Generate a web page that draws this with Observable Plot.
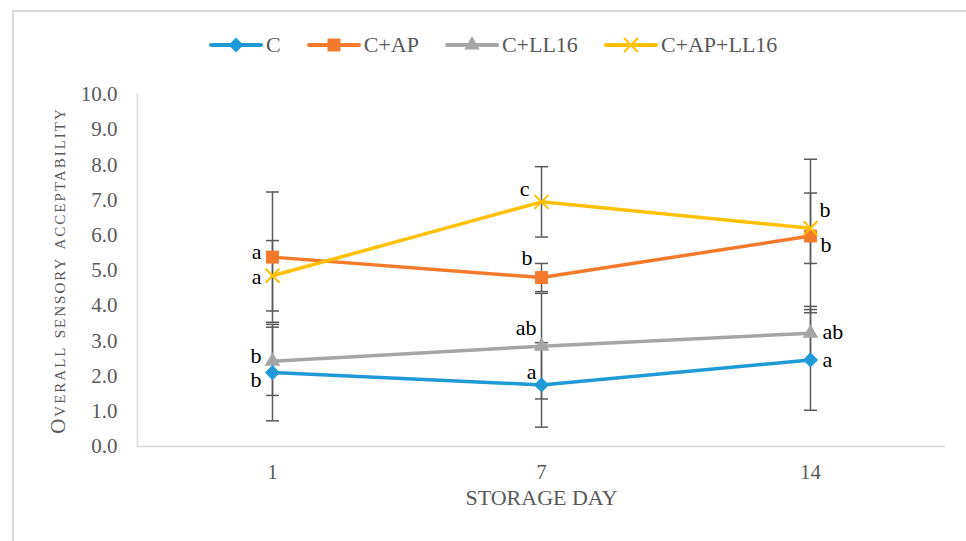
<!DOCTYPE html>
<html><head><meta charset="utf-8">
<script src="https://cdn.jsdelivr.net/npm/d3@7"></script>
<script src="https://cdn.jsdelivr.net/npm/@observablehq/plot@0.6"></script>
<style>
body{margin:0;background:#fff;overflow:hidden;}
#wrap{position:relative;width:966px;height:541px;overflow:hidden;}
#frame{position:absolute;left:12px;top:10px;width:990px;height:560px;border:2px solid #d9d9d9;box-sizing:border-box;pointer-events:none;}
#legend{position:absolute;left:209px;top:30px;height:30px;display:flex;align-items:center;font-family:"Liberation Serif",serif;font-size:22px;color:#595959;}
.item{display:flex;align-items:center;margin-right:26px;}
.item svg{margin-right:3px;}
#chart{position:absolute;left:0;top:70px;}
</style></head>
<body>
<div id="wrap">
  <div id="frame"></div>
  <div id="legend"></div>
  <div id="chart"></div>
</div>
<script>
// ---- data ----
const days = ["1", "7", "14"];
const series = ["C", "C+AP", "C+LL16", "C+AP+LL16"];
const colors = ["#1F9AD6", "#F47A2B", "#A5A5A5", "#FFC000"];
const symbols = ["diamond2", "square", "triangle", "times"];

const meanC        = [2.10, 1.75, 2.46];
const meanCAP      = [5.38, 4.80, 5.98];
const meanCLL16    = [2.42, 2.85, 3.22];
const meanCAPLL16  = [4.85, 6.95, 6.20];

const errC         = [1.37, 1.20, 1.43];
const errCAP       = [1.85, 0.40, 2.18];
const errCLL16     = [0.97, 1.50, 0.76];
const errCAPLL16   = [1.00, 1.00, 1.00];

const letterC       = ["b", "a", "a"];
const letterCAP     = ["a", "b", "b"];
const letterCLL16   = ["b", "ab", "ab"];
const letterCAPLL16 = ["a", "c", "b"];

const yTicks = [0, 1, 2, 3, 4, 5, 6, 7, 8, 9, 10];
const yLabel = "Overall sensory acceptability";
const xLabel = "STORAGE DAY";

// ---- table ----
const means = [meanC, meanCAP, meanCLL16, meanCAPLL16];
const errs = [errC, errCAP, errCLL16, errCAPLL16];
const letters = [letterC, letterCAP, letterCLL16, letterCAPLL16];
const rows = [];
series.forEach((s, si) => days.forEach((d, di) => {
  const v = means[si][di], e = errs[si][di];
  rows.push({series: s, si, day: d, di, v, lo: v - e, hi: v + e, letter: letters[si][di]});
}));

// label placement (style only)
const labelStyle = {
  "C|1": [-11, 7, "end"], "C+AP|1": [-11, -5, "end"], "C+LL16|1": [-11, -5, "end"], "C+AP+LL16|1": [-11, 1, "end"],
  "C|7": [-5, -13, "end"], "C+AP|7": [-9, -20, "end"], "C+LL16|7": [-5, -18, "end"], "C+AP+LL16|7": [-12, -13, "end"],
  "C|14": [12, 0, "start"], "C+AP|14": [10, 9, "start"], "C+LL16|14": [12, -1, "start"], "C+AP+LL16|14": [9, -18, "start"]
};

const capSymbol = {draw(ctx, size) { const w = Math.sqrt(size / Math.PI); ctx.moveTo(-w, 0); ctx.lineTo(w, 0); }};
const errColor = "#595959";
const markerR = {diamond2: 6.8, square: 7.3, triangle: 5.8, times: 6.4};

const marks = [
  Plot.frame({anchor: "left", stroke: "#d9d9d9", strokeWidth: 1.5}),
  Plot.ruleY([0], {stroke: "#d9d9d9", strokeWidth: 1.5}),
  Plot.axisY({ticks: yTicks, tickFormat: d3.format(".1f"), tickSize: 0, tickPadding: 20, label: null}),
  Plot.axisX({tickSize: 0, tickPadding: 18, label: null}),
  Plot.text([yLabel], {frameAnchor: "left", textAnchor: "middle", dx: -79, rotate: -90, fontVariant: "small-caps", fontSize: 21, fill: "#595959"}),
  Plot.text([xLabel], {frameAnchor: "bottom", dy: 58, fontSize: 22, fill: "#595959"}),
  Plot.ruleX(rows, {x: "day", y1: "lo", y2: "hi", stroke: errColor, strokeWidth: 1.5}),
  Plot.dot(rows, {x: "day", y: "lo", symbol: capSymbol, r: 6.5, stroke: errColor, strokeWidth: 1.5, fill: "none"}),
  Plot.dot(rows, {x: "day", y: "hi", symbol: capSymbol, r: 6.5, stroke: errColor, strokeWidth: 1.5, fill: "none"}),
  Plot.line(rows, {x: "day", y: "v", z: "series", stroke: "series", strokeWidth: 3.5, strokeLinejoin: "round", strokeLinecap: "round"})
];
series.forEach((s, si) => {
  const sym = symbols[si];
  const data = rows.filter(r => r.series === s);
  if (sym === "times") {
    marks.push(Plot.dot(data, {x: "day", y: "v", symbol: sym, r: markerR[sym], stroke: colors[si], strokeWidth: 2, fill: "none"}));
  } else {
    marks.push(Plot.dot(data, {x: "day", y: "v", symbol: sym, r: markerR[sym], fill: colors[si], stroke: "none"}));
  }
});
rows.forEach(r => {
  const [dx, dy, anchor] = labelStyle[r.series + "|" + r.day];
  marks.push(Plot.text([r], {x: "day", y: "v", text: "letter", dx, dy, textAnchor: anchor, fontSize: 22, fill: "#000"}));
});

const chart = Plot.plot({
  width: 966,
  height: 471,
  marginLeft: 137,
  marginRight: 21,
  marginTop: 24,
  marginBottom: 95,
  style: {fontFamily: "'Liberation Serif', serif", fontSize: "21px", color: "#595959", background: "transparent"},
  x: {type: "point", domain: days, padding: 0.5},
  y: {domain: [0, 10]},
  color: {domain: series, range: colors},
  marks
});
// widen the tracking of the small-caps y label
d3.select(chart).selectAll("text").filter(function() { return this.textContent === yLabel; })
  .attr("letter-spacing", "2px");
document.getElementById("chart").appendChild(chart);

// ---- legend ----
const legend = d3.select("#legend");
series.forEach((s, si) => {
  const item = legend.append("div").attr("class", "item");
  const svg = item.append("svg").attr("width", 54).attr("height", 20);
  svg.append("line").attr("x1", 2).attr("x2", 52).attr("y1", 10).attr("y2", 10)
    .attr("stroke", colors[si]).attr("stroke-width", 4).attr("stroke-linecap", "round");
  const sym = symbols[si];
  const d3sym = {diamond2: d3.symbolDiamond2, square: d3.symbolSquare, triangle: d3.symbolTriangle, times: d3.symbolTimes}[sym];
  const size = Math.PI * markerR[sym] * markerR[sym];
  const p = svg.append("path").attr("transform", "translate(27,10)").attr("d", d3.symbol(d3sym, size)());
  if (sym === "times") p.attr("fill", "none").attr("stroke", colors[si]).attr("stroke-width", 2);
  else p.attr("fill", colors[si]);
  item.append("span").text(s);
});
</script>
</body></html>
